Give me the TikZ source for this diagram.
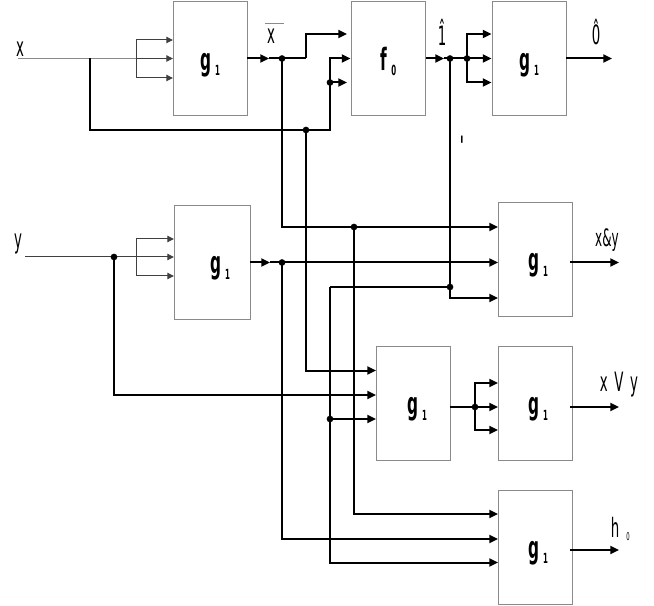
\documentclass[tikz,border=0pt]{standalone}
\usepackage{fontspec}
\usetikzlibrary{arrows.meta}
\newfontfamily\lab[FakeStretch=0.5]{DejaVu Sans}
\definecolor{boxgray}{HTML}{8A8A8A}
\tikzset{
 x=0.75pt,y=-0.75pt,
 block/.style={draw=boxgray,line width=0.75pt,inner sep=0pt,minimum width=55.5pt,minimum height=85.5pt,font=\lab\bfseries\fontsize{23}{23}\selectfont},
 wire/.style={line width=1.5pt,black},
 thinwire/.style={line width=0.75pt,black!75},
 greywire/.style={line width=1pt,boxgray},
 tip/.style={-{Triangle[length=6.5pt,width=6pt]}},
 tipthin/.style={-{Triangle[length=5pt,width=4.8pt]}},
 dot/.style={circle,fill=black,inner sep=0pt,minimum size=5pt},
 lbl/.style={inner sep=0pt,font=\lab\fontsize{20}{20}\selectfont},
}
\newcommand{\gsub}[3]{\kern#1\raisebox{-8.5pt}[12pt][12pt]{#2\kern3pt\raisebox{-4pt}{\fontsize{10.5}{10.5}\selectfont #3}}}
\begin{document}
\begin{tikzpicture}
\useasboundingbox (0,0) rectangle (654,606);
% blocks
\node[block] (A) at (210,59) {\gsub{0pt}{g}{1}};
\node[block] (B) at (388.5,59) {\gsub{0pt}{f}{0}};
\node[block] (C) at (529,59) {\gsub{0pt}{g}{1}};
\node[block,minimum width=57pt] (D) at (212,262.5) {\gsub{12pt}{g}{1}};
\node[block] (E) at (535.5,259.5) {\gsub{4pt}{g}{1}};
\node[block] (F) at (413,403.5) {\gsub{6pt}{g}{1}};
\node[block] (G) at (535.5,403.5) {\gsub{4pt}{g}{1}};
\node[block] (H) at (535.5,547) {\gsub{4pt}{g}{1}};
% labels
\node[lbl] (lx) at (20,49) {x};
\node[lbl] (ly) at (18,244) {y};
\node[lbl] (lnx) at (271,36) {x};
\node[lbl] (l1) at (442,32) {\^{1}};
\node[lbl] (l0) at (596,32) {\^{0}};
\node[lbl,font=\lab\bfseries\fontsize{20}{20}\selectfont] (lq) at (462,146) {'};
\node[lbl,font=\lab\fontsize{18}{18}\selectfont] (land) at (607,240) {x\&y};
\node[lbl] (lor) at (619,385) {x\kern5pt V\kern5pt y};
\node[lbl] (lh) at (615,527) {h};
\node[lbl,font=\lab\fontsize{8}{8}\selectfont] (lh0) at (628,537) {0};
\coordinate (nl) at (265,24);
\coordinate (nr) at (284,24);
\draw[line width=0.75pt,boxgray] (nl) -- (nr);
% free ends and junctions
\coordinate (xin) at (18,58.5);
\coordinate (yin) at (25,257);
\coordinate (xj) at (90,58.5);
\coordinate (xb) at (136,58.5);
\coordinate (yb) at (136,257);
\coordinate (Ai1) at (173,40);
\coordinate (Ai2) at (173,58.5);
\coordinate (Ai3) at (173,78);
\coordinate (Di1) at (174,239);
\coordinate (Di2) at (174,257);
\coordinate (Di3) at (174,276);
\coordinate (Aout) at (247,58.5);
\coordinate (Amid) at (269,58.5);
\coordinate (n1) at (282,58.5);
\coordinate (n1b) at (306,58.5);
\coordinate (Bi1) at (347,34);
\coordinate (Bi2) at (350.5,58.5);
\coordinate (Bi3) at (347,82.5);
\coordinate (m1) at (330,82.5);
\coordinate (xbus) at (306,130);
\coordinate (Bout) at (426,58.5);
\coordinate (Bmid) at (444,58.5);
\coordinate (o1) at (450,58.5);
\coordinate (o2) at (467,58.5);
\coordinate (Ci1) at (491.5,34);
\coordinate (Ci2) at (491.5,58.5);
\coordinate (Ci3) at (491.5,82.5);
\coordinate (Cout) at (566,58.5);
\coordinate (Cend) at (612,58.5);
\coordinate (Dout) at (250,262.5);
\coordinate (Dmid) at (270,262.5);
\coordinate (p1) at (282,262.5);
\coordinate (q1) at (354,227);
\coordinate (y1) at (114,257);
\coordinate (r1) at (450,287);
\coordinate (r2) at (330,419);
\coordinate (Ei1) at (498,227);
\coordinate (Ei2) at (498,262.5);
\coordinate (Ei3) at (498,298);
\coordinate (Fi1) at (376,370.5);
\coordinate (Fi2) at (376,395);
\coordinate (Fi3) at (376,419);
\coordinate (Gi1) at (498,383);
\coordinate (Gi2) at (498,407);
\coordinate (Gi3) at (498,430);
\coordinate (Fout) at (450,407);
\coordinate (s1) at (475,407);
\coordinate (Hi1) at (498,514);
\coordinate (Hi2) at (498,539);
\coordinate (Hi3) at (498,562.5);
\coordinate (Eo) at (570,262.5);
\coordinate (Ee) at (619,262.5);
\coordinate (Go) at (570,407);
\coordinate (Ge) at (619,407);
\coordinate (Ho) at (570,550);
\coordinate (He) at (619,550);
% input X
\draw[greywire] (xin) -- (xb);
\draw[thinwire,tipthin] (xb) -- (Ai2);
\draw[thinwire,tipthin] (xb) |- (Ai1);
\draw[thinwire,tipthin] (xb) |- (Ai3);
% input Y
\draw[thinwire] (yin) -- (yb);
\draw[thinwire,tipthin] (yb) -- (Di2);
\draw[thinwire,tipthin] (yb) |- (Di1);
\draw[thinwire,tipthin] (yb) |- (Di3);
% buses from inputs
\draw[wire] (xj) |- (xbus) -- (330,130) |- (m1);
\draw[wire,tip] (330,130) |- (Bi2);
\draw[wire,tip] (m1) -- (Bi3);
\draw[wire,tip] (xbus) |- (Fi1);
\draw[wire,tip] (y1) |- (Fi2);
% top row
\draw[wire,tip] (Aout) -- (Amid);
\draw[wire] (Amid) -- (n1b);
\draw[wire,tip] (n1b) |- (Bi1);
\draw[wire,tip] (n1) |- (Ei1);
\draw[wire,tip] (q1) |- (Hi1);
\draw[wire,tip] (Bout) -- (Bmid);
\draw[wire] (Bmid) -- (o2);
\draw[wire,tip] (o2) -- (Ci2);
\draw[wire,tip] (o2) |- (Ci1);
\draw[wire,tip] (o2) |- (Ci3);
\draw[wire,tip] (Cout) -- (Cend);
\draw[wire,tip] (o1) |- (Ei3);
% row D
\draw[wire,tip] (Dout) -- (Dmid);
\draw[wire,tip] (Dmid) -- (Ei2);
\draw[wire,tip] (p1) |- (Hi2);
\draw[wire] (r1) -- (330,287);
\draw[wire,tip] (330,287) |- (Hi3);
\draw[wire,tip] (r2) -- (Fi3);
% F to G
\draw[wire,tip] (Fout) -- (Gi2);
\draw[wire,tip] (s1) |- (Gi1);
\draw[wire,tip] (s1) |- (Gi3);
% outputs
\draw[wire,tip] (Eo) -- (Ee);
\draw[wire,tip] (Go) -- (Ge);
\draw[wire,tip] (Ho) -- (He);
% dots
\foreach \p in {n1,m1,xbus,o1,o2,p1,q1,y1,r1,r2,s1}
  \node[dot] at (\p) {};
\end{tikzpicture}
\end{document}
